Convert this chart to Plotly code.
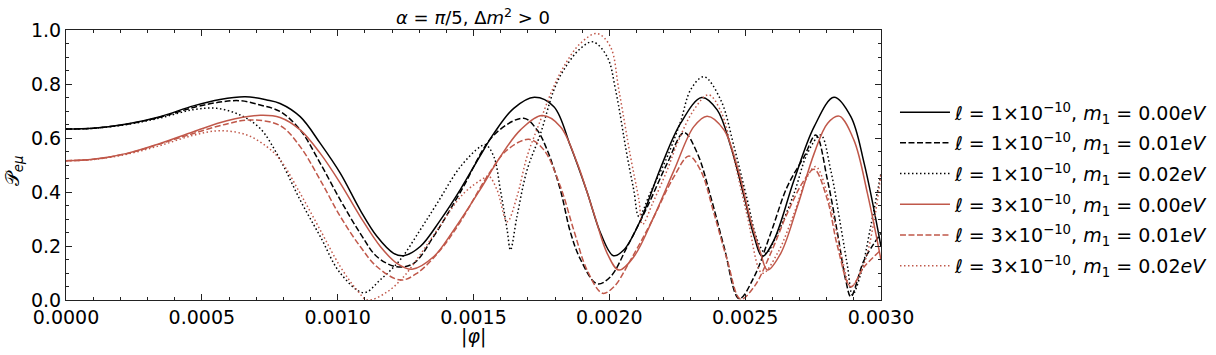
import numpy as np
import plotly.graph_objects as go

# |phi| in units of 1e-4
phi_l1_m0 = [0, 1.0, 2.24, 3.46, 4.69, 5.67, 6.6, 7.39, 7.88, 8.62, 9.36, 10.1, 10.83, 11.45, 12.06, 12.43,
             13.04, 13.78, 14.52, 15.25, 15.75, 16.48, 17.24, 17.96, 18.57, 19.18, 19.68, 20.15, 20.53, 21.15,
             21.89, 22.62, 23.4, 23.97, 24.47, 24.96, 25.33, 25.63, 26.06, 26.8, 27.54, 28.27, 28.89, 29.38, 30.0]
p_l1_m0 = [0.633, 0.636, 0.652, 0.679, 0.719, 0.743, 0.753, 0.741, 0.728, 0.679, 0.58, 0.469, 0.333, 0.235, 0.173, 0.164,
           0.198, 0.296, 0.41, 0.535, 0.617, 0.71, 0.751, 0.716, 0.57, 0.4, 0.247, 0.164, 0.185, 0.296,
           0.49, 0.654, 0.75, 0.704, 0.568, 0.383, 0.235, 0.161, 0.222, 0.444, 0.642, 0.751, 0.679, 0.506, 0.198]

phi_l1_m1 = [0, 1.0, 2.24, 3.46, 4.69, 5.67, 6.41, 7.15, 7.88, 8.62, 9.36, 10.1, 10.83, 11.45, 12.18, 12.8, 13.53,
             14.52, 15.75, 16.85, 17.34, 17.71, 18.2, 18.57, 18.94, 19.55, 20.04, 20.66, 21.4, 22.13, 22.75, 23.24,
             23.73, 24.22, 24.78, 25.33, 25.94, 26.55, 27.17, 27.6, 28.03, 28.4, 28.7, 28.89, 29.38, 30.0]
p_l1_m1 = [0.633, 0.636, 0.651, 0.677, 0.713, 0.733, 0.738, 0.722, 0.698, 0.63, 0.506, 0.37, 0.247, 0.16, 0.123, 0.136, 0.235,
           0.4, 0.611, 0.673, 0.63, 0.556, 0.407, 0.25, 0.15, 0.06, 0.086, 0.198, 0.346, 0.506, 0.62, 0.543,
           0.383, 0.198, 0.005, 0.086, 0.247, 0.42, 0.531, 0.611, 0.444, 0.247, 0.074, 0.012, 0.148, 0.247]

phi_l1_m2 = [0, 1.0, 2.24, 3.46, 4.69, 5.55, 6.41, 7.15, 7.88, 8.62, 9.36, 10.1, 10.96, 11.57, 12.31, 13.04, 13.66,
             14.52, 15.25, 15.45, 15.75, 15.99, 16.24, 16.36, 16.6, 16.97, 17.47, 17.96, 18.32, 18.94, 19.4, 19.92,
             20.23, 20.66, 20.9, 21.09, 21.52, 22.13, 22.62, 23.0, 23.48, 24.1, 24.59, 25.08, 25.45, 25.76, 26.19,
             26.8, 27.29, 27.78, 28.15, 28.52, 28.77, 28.95, 29.26, 29.62, 30.0]
p_l1_m2 = [0.633, 0.636, 0.65, 0.674, 0.705, 0.71, 0.685, 0.635, 0.52, 0.37, 0.235, 0.099, 0.027, 0.075, 0.15, 0.26, 0.358,
           0.494, 0.568, 0.575, 0.531, 0.407, 0.259, 0.185, 0.309, 0.481, 0.617, 0.778, 0.852, 0.932, 0.956, 0.901,
           0.778, 0.531, 0.407, 0.309, 0.4, 0.53, 0.66, 0.78, 0.827, 0.741, 0.568, 0.37, 0.222, 0.173, 0.247,
           0.395, 0.543, 0.611, 0.48, 0.272, 0.123, 0.019, 0.099, 0.272, 0.47]

phi_l3_m0 = [0, 1.0, 2.24, 3.46, 4.69, 5.92, 7.15, 7.88, 8.62, 9.36, 10.1, 10.83, 11.57, 12.18, 12.74, 13.53, 14.27,
             15.25, 15.99, 16.73, 17.53, 18.2, 18.82, 19.43, 19.92, 20.35, 20.9, 21.64, 22.38, 23.11, 23.6, 24.22,
             24.71, 25.2, 25.57, 25.82, 26.31, 26.92, 27.54, 28.03, 28.46, 29.0, 29.5, 30.0]
p_l3_m0 = [0.516, 0.521, 0.543, 0.58, 0.623, 0.664, 0.684, 0.676, 0.63, 0.543, 0.432, 0.309, 0.198, 0.136, 0.114, 0.16, 0.259,
           0.41, 0.531, 0.63, 0.683, 0.642, 0.506, 0.321, 0.173, 0.111, 0.16, 0.309, 0.48, 0.642, 0.681, 0.63,
           0.494, 0.296, 0.173, 0.111, 0.173, 0.346, 0.543, 0.654, 0.681, 0.593, 0.395, 0.148]

phi_l3_m1 = [0, 1.0, 2.24, 3.46, 4.69, 5.92, 6.78, 7.88, 8.62, 9.36, 10.1, 10.83, 11.45, 12.31, 12.92, 13.78, 14.52,
             15.5, 16.24, 17.04, 17.59, 18.2, 18.69, 19.18, 19.75, 20.17, 20.78, 21.52, 22.38, 22.93, 23.36, 23.85,
             24.34, 24.83, 25.33, 25.94, 26.55, 27.17, 27.54, 28.03, 28.4, 28.89, 29.38, 30.0]
p_l3_m1 = [0.516, 0.521, 0.542, 0.578, 0.617, 0.652, 0.667, 0.646, 0.568, 0.444, 0.309, 0.198, 0.123, 0.074, 0.099, 0.185, 0.29,
           0.457, 0.556, 0.595, 0.556, 0.42, 0.259, 0.111, 0.025, 0.049, 0.148, 0.284, 0.457, 0.533, 0.48, 0.321,
           0.148, 0.003, 0.049, 0.173, 0.321, 0.444, 0.484, 0.37, 0.198, 0.049, 0.123, 0.185]

phi_l3_m2 = [0, 1.0, 2.24, 3.46, 4.69, 5.67, 6.66, 7.39, 7.88, 8.62, 9.36, 10.1, 10.71, 11.1, 11.82, 12.43, 13.05,
             13.66, 14.64, 15.38, 15.56, 15.87, 16.24, 16.6, 16.97, 17.47, 17.9, 18.32, 18.94, 19.55, 20.04, 20.35,
             20.78, 21.09, 21.22, 21.6, 22.13, 22.5, 23.11, 23.65, 24.1, 24.59, 25.08, 25.63, 26.19, 26.8, 27.29,
             27.6, 28.15, 28.58, 28.89, 29.38, 29.75, 30.0]
p_l3_m2 = [0.516, 0.52, 0.54, 0.572, 0.61, 0.627, 0.611, 0.568, 0.52, 0.395, 0.259, 0.123, 0.037, 0.0, 0.03, 0.086, 0.17,
           0.259, 0.395, 0.451, 0.459, 0.407, 0.29, 0.383, 0.531, 0.667, 0.778, 0.864, 0.951, 0.987, 0.938, 0.778,
           0.531, 0.37, 0.28, 0.36, 0.481, 0.58, 0.704, 0.76, 0.70, 0.52, 0.31, 0.099, 0.173, 0.321, 0.457,
           0.494, 0.346, 0.148, 0.049, 0.136, 0.296, 0.469]

BLACK = "#000000"
RED = "#c0584a"
DASH = "6px,2.5px"
DOT = "1.5px,2.5px"

series = [
    ("1", "0.00", phi_l1_m0, p_l1_m0, BLACK, "solid"),
    ("1", "0.01", phi_l1_m1, p_l1_m1, BLACK, DASH),
    ("1", "0.02", phi_l1_m2, p_l1_m2, BLACK, DOT),
    ("3", "0.00", phi_l3_m0, p_l3_m0, RED, "solid"),
    ("3", "0.01", phi_l3_m1, p_l3_m1, RED, DASH),
    ("3", "0.02", phi_l3_m2, p_l3_m2, RED, DOT),
]

fig = go.Figure()
for i, (ell, m1, phi, p, col, dash) in enumerate(series):
    fig.add_trace(go.Scatter(
        x=np.array(phi) * 1e-4, y=p, mode="lines",
        line=dict(color=col, width=1.5, dash=dash, shape="spline", smoothing=1.0),
        name=f"<i>ℓ</i> = {ell}×10<sup>−10</sup>, <i>m</i><sub>1</sub> = {m1}<i>eV</i>",
        legendgroup=f"g{i}",
    ))

axis_common = dict(
    showline=True, linecolor="#222", linewidth=1, mirror="allticks", automargin=False,
    ticks="inside", ticklen=6, tickcolor="#222", showgrid=False, zeroline=False,
    tickfont=dict(size=19, color="black"),
)

fig.update_layout(
    width=1216, height=355,
    margin=dict(l=66, r=335, t=30, b=55),
    paper_bgcolor="white", plot_bgcolor="white",
    font=dict(family="DejaVu Sans", color="black"),
    title=dict(text="<i>α</i> = <i>π</i>/5, Δ<i>m</i><sup>2</sup> > 0", x=0.389, xanchor="center",
               y=0.949, yanchor="middle", font=dict(size=18)),
    xaxis=dict(range=[0, 0.003], dtick=0.0005, tickformat=".4f",
               minor=dict(ticks="inside", dtick=0.0001, ticklen=3, tickcolor="#222"),
               **axis_common),
    yaxis=dict(range=[0, 1], dtick=0.2, tickformat=".1f",
               minor=dict(ticks="inside", dtick=0.05, ticklen=3, tickcolor="#222"),
               **axis_common),
    # container-referenced so the legend does not squeeze the plot area
    legend=dict(xref="container", x=0.736, xanchor="left", y=0.41, yanchor="middle", font=dict(size=19),
                bgcolor="rgba(0,0,0,0)", tracegroupgap=3, itemwidth=50),
    showlegend=True,
)

# axis titles placed as annotations so the plot frame stays where it is
fig.add_annotation(text="|<i>φ</i>|", xref="paper", yref="paper", x=0.5, y=-0.135,
                   xanchor="center", yanchor="middle", showarrow=False, font=dict(size=19))
fig.add_annotation(text="𝒫<sub><i>eμ</i></sub>", xref="paper", yref="paper", x=-0.064, y=0.48,
                   xanchor="center", yanchor="middle", textangle=-90, showarrow=False, font=dict(size=19))

# drop the browser's default body margin so the figure sits at the page origin
fig.write_html("out.html", config={"displayModeBar": False},
               post_script="document.body.style.margin='0';")
